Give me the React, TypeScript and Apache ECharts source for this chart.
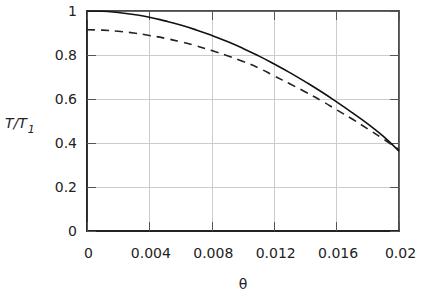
import React, { useEffect, useRef } from "react";
import * as echarts from "echarts";

const thetaValues = [0, 0.001, 0.002, 0.003, 0.004, 0.005, 0.006, 0.007, 0.008, 0.009, 0.01, 0.011, 0.012, 0.013, 0.014, 0.015, 0.016, 0.017, 0.018, 0.019, 0.02];
const solidValues = [1.0, 0.999, 0.993, 0.984, 0.972, 0.955, 0.936, 0.914, 0.889, 0.861, 0.83, 0.796, 0.759, 0.72, 0.678, 0.634, 0.587, 0.538, 0.487, 0.43, 0.363];
const dashedValues = [0.915, 0.913, 0.908, 0.9, 0.889, 0.876, 0.86, 0.842, 0.82, 0.797, 0.771, 0.741, 0.705, 0.669, 0.632, 0.593, 0.551, 0.509, 0.464, 0.418, 0.37];
const xTicks = [0, 0.004, 0.008, 0.012, 0.016, 0.02];
const yTicks = [0, 0.2, 0.4, 0.6, 0.8, 1];

const FONT = "DejaVu Sans";

export default function App() {
  const ref = useRef<HTMLDivElement>(null);
  useEffect(() => {
    if (!ref.current) return;
    const chart = echarts.init(ref.current, undefined, { renderer: "svg" });
    const fmt = (v: number) => String(Math.round(v * 1000) / 1000);
    const axisCommonX = {
      type: "value" as const,
      min: xTicks[0],
      max: xTicks[xTicks.length - 1],
      interval: 0.004,
    };
    const axisCommonY = {
      type: "value" as const,
      min: yTicks[0],
      max: yTicks[yTicks.length - 1],
      interval: 0.2,
    };
    chart.setOption({
      animation: false,
      grid: {
        left: 87,
        right: 36,
        top: 11,
        bottom: 66,
        show: true,
        borderColor: "#333",
        borderWidth: 1.5,
        backgroundColor: "transparent",
      },
      xAxis: [
        {
          ...axisCommonX,
          position: "bottom",
          name: "θ",
          nameLocation: "middle",
          nameGap: 46,
          nameTextStyle: { fontFamily: FONT, fontSize: 14, color: "#222" },
          axisLine: { show: true, onZero: false, lineStyle: { color: "#222", width: 1.8 } },
          axisTick: { show: true, inside: true, length: 9, lineStyle: { color: "#555", width: 1 } },
          axisLabel: {
            fontFamily: FONT,
            fontSize: 14,
            color: "#222",
            margin: 15,
            padding: [0, 0, 0, 3],
            formatter: (v: number) => fmt(v),
          },
          splitLine: { show: true, lineStyle: { color: "#cccccc", width: 1 } },
        },
        {
          ...axisCommonX,
          position: "top",
          axisLine: { show: true, onZero: false, lineStyle: { color: "#444", width: 1.5 } },
          axisTick: { show: true, inside: true, length: 9, lineStyle: { color: "#555", width: 1 } },
          axisLabel: { show: false },
          splitLine: { show: false },
        },
      ],
      yAxis: [
        {
          ...axisCommonY,
          position: "left",
          axisLine: { show: true, onZero: false, lineStyle: { color: "#222", width: 1.8 } },
          axisTick: { show: true, inside: true, length: 9, lineStyle: { color: "#555", width: 1 } },
          axisLabel: {
            fontFamily: FONT,
            fontSize: 14,
            color: "#222",
            margin: 10,
            formatter: (v: number) => fmt(v),
          },
          splitLine: { show: true, lineStyle: { color: "#cccccc", width: 1 } },
        },
        {
          ...axisCommonY,
          position: "right",
          axisLine: { show: true, onZero: false, lineStyle: { color: "#444", width: 1.5 } },
          axisTick: { show: true, inside: true, length: 9, lineStyle: { color: "#555", width: 1 } },
          axisLabel: { show: false },
          splitLine: { show: false },
        },
      ],
      graphic: [
        {
          type: "text",
          left: 5,
          top: 116,
          style: {
            text: "{a|T/T}{b|1}",
            rich: {
              a: { fontFamily: FONT, fontStyle: "italic", fontSize: 14, fill: "#222", verticalAlign: "top" },
              b: { fontFamily: FONT, fontStyle: "italic", fontSize: 11, fill: "#222", padding: [8, 0, 0, 1] },
            },
          },
        },
      ],
      series: [
        {
          type: "line",
          data: thetaValues.map((t, i) => [t, solidValues[i]]),
          smooth: true,
          showSymbol: false,
          lineStyle: { color: "#111", width: 1.6, type: "solid" },
          clip: true,
        },
        {
          type: "line",
          data: thetaValues.map((t, i) => [t, dashedValues[i]]),
          smooth: true,
          showSymbol: false,
          lineStyle: { color: "#222", width: 1.6, type: [8, 6] },
          clip: true,
        },
      ],
    });
    return () => chart.dispose();
  }, []);
  return <div ref={ref} style={{ width: 435, height: 297, position: "absolute", left: 0, top: 0, background: "#fff" }} />;
}
